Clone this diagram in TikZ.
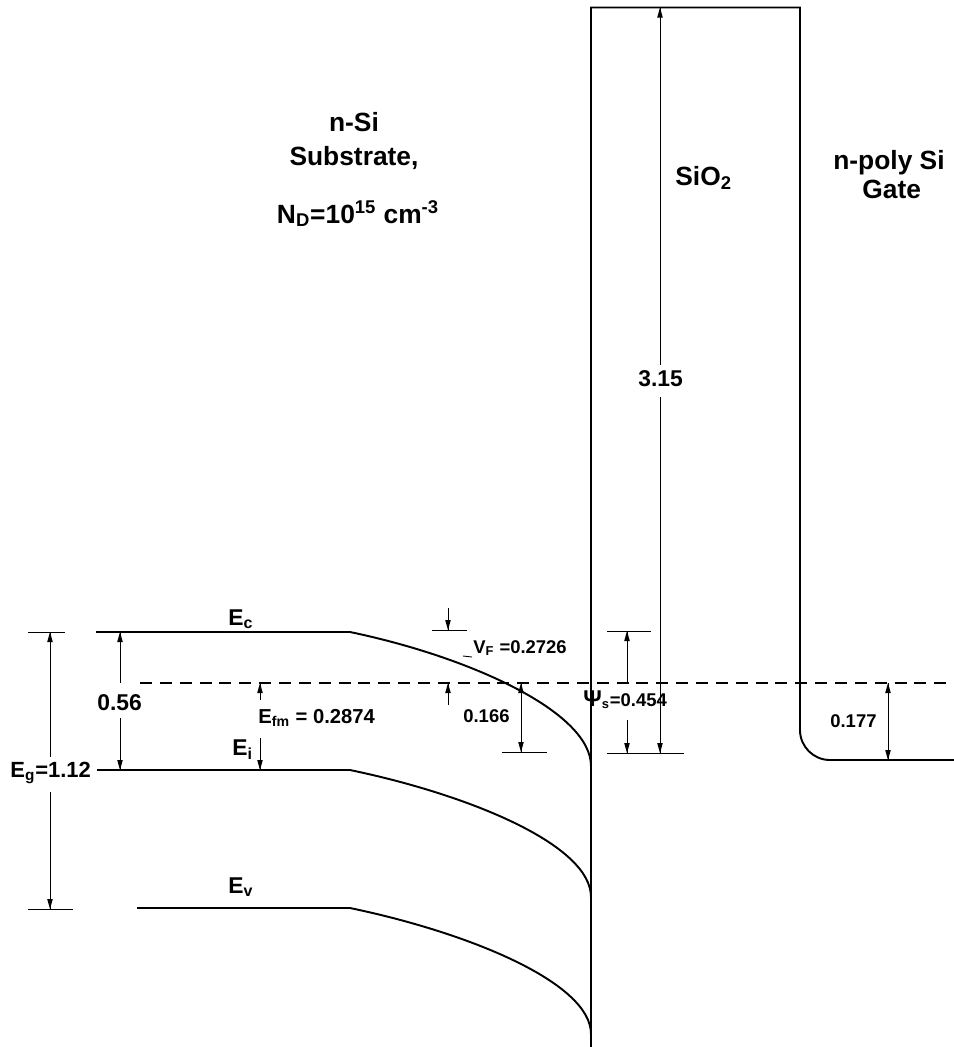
\documentclass[tikz,border=0pt]{standalone}
\usepackage{fontspec}
\setmainfont{Liberation Sans}

\begin{document}
\begin{tikzpicture}[scale=0.2]
        \tikzstyle{every node}+=[inner sep=0pt]
        \tikzstyle{band}=[black, line width=1.1pt]
        \tikzstyle{dim}=[black, line width=0.5pt]
        \tikzstyle{big}=[font=\fontsize{15}{18}\selectfont\bfseries]
        \tikzstyle{mid}=[font=\fontsize{13}{15}\selectfont\bfseries]
        \tikzstyle{small}=[font=\fontsize{10.5}{12}\selectfont\bfseries]
        \useasboundingbox (0,0) rectangle (95.4,-104.7);
        % bands
        \draw [band] (9.6,-63.2) -- (35,-63.2) .. controls (47,-65.7) and (59.1,-71.2) .. (59.1,-76.6);
        \draw [band] (9.7,-77.0) -- (35,-77.0) .. controls (47,-79.5) and (59.1,-84.5) .. (59.1,-89.7);
        \draw [band] (13.7,-90.8) -- (35,-90.8) .. controls (47,-93.3) and (59.1,-98.3) .. (59.1,-103.4);
        \draw [black, line width=0.9pt, dash pattern=on 6.8pt off 4.5pt] (14,-68.3) -- (95.4,-68.3);
        % oxide and gate
        \draw [band] (59.1,-104.7) -- (59.1,-0.75) -- (80,-0.75) -- (80,-73) arc (180:270:3) -- (95.4,-76);
        % texts
        \draw (35.4,-13.1) node (nsi) [big, anchor=base] {n-Si};
        \draw (35.4,-16.5) node (sub) [big, anchor=base] {Substrate,};
        \draw (35.8,-22.3) node (nd) [big, anchor=base] {N\textsubscript{D}=10\textsuperscript{15} cm\textsuperscript{-3}};
        \draw (67.5,-18.5) node (sio) [big, anchor=base west] {SiO\textsubscript{2}};
        \draw (83.3,-16.9) node (poly) [big, anchor=base west] {n-poly Si};
        \draw (86.2,-19.8) node (gate) [big, anchor=base west] {Gate};
        \draw (22.8,-62.5) node (ec) [mid, anchor=base west] {E\textsubscript{c}};
        \draw (23.2,-75.5) node (ei) [mid, anchor=base west] {E\textsubscript{i}};
        \draw (22.8,-89.3) node (ev) [mid, anchor=base west] {E\textsubscript{v}};
        % E_g = 1.12
        \draw [dim] (2.8,-63.2) -- (6.5,-63.2);
        \draw [dim] (2.8,-90.9) -- (7.3,-90.9);
        \draw [dim] (5,-63.2) -- (5,-75.7);
        \draw [dim] (5,-79.2) -- (5,-90.9);
        \fill [black] (5,-63.2) -- (4.72,-64.2) -- (5.28,-64.2);
        \fill [black] (5,-90.9) -- (4.72,-89.9) -- (5.28,-89.9);
        \draw (1,-77.7) node (eg) [anchor=base west, font=\fontsize{12.5}{15}\selectfont\bfseries] {E\textsubscript{g}=1.12};
        % 0.56
        \draw [dim] (12,-63.2) -- (12,-68.3);
        \draw [dim] (12,-71.8) -- (12,-77.0);
        \fill [black] (12,-63.2) -- (11.72,-64.2) -- (12.28,-64.2);
        \fill [black] (12,-77.0) -- (11.72,-76.0) -- (12.28,-76.0);
        \draw (9.7,-71) node (half) [mid, anchor=base west] {0.56};
        % E_fm
        \draw [dim] (26,-68.3) -- (26,-70);
        \draw [dim] (26,-73.8) -- (26,-77.0);
        \fill [black] (26,-68.3) -- (25.72,-69.3) -- (26.28,-69.3);
        \fill [black] (26,-77.0) -- (25.72,-76.0) -- (26.28,-76.0);
        \draw (25.8,-72.3) node (efm) [anchor=base west, font=\fontsize{11.5}{13}\selectfont\bfseries] {E\textsubscript{fm} = 0.2874};
        % V_F
        \draw [dim] (43.2,-63.0) -- (46.7,-63.0);
        \draw [dim] (44.8,-60.8) -- (44.8,-63.0);
        \draw [dim] (44.8,-70.5) -- (44.8,-68.3);
        \fill [black] (44.8,-63.0) -- (44.52,-62.0) -- (45.08,-62.0);
        \fill [black] (44.8,-68.3) -- (44.52,-69.3) -- (45.08,-69.3);
        \draw [dim] (46.3,-65.6) -- (47.2,-65.7);
        \draw (47.3,-65.3) node (vf) [small, anchor=base west] {V\textsubscript{F} =0.2726};
        % 0.166
        \draw [dim] (50.2,-75.2) -- (54.7,-75.2);
        \draw [dim] (52.1,-68.3) -- (52.1,-75.2);
        \fill [black] (52.1,-68.3) -- (51.82,-69.3) -- (52.38,-69.3);
        \fill [black] (52.1,-75.2) -- (51.82,-74.2) -- (52.38,-74.2);
        \draw (46.3,-72.2) node (bend) [small, anchor=base west] {0.166};
        % psi_s
        \draw [dim] (60.7,-63.1) -- (65.1,-63.1);
        \draw [dim] (60.7,-75.3) -- (68.4,-75.3);
        \draw [dim] (62.7,-63.1) -- (62.7,-68.3);
        \draw [dim] (62.7,-72) -- (62.7,-75.3);
        \fill [black] (62.7,-63.1) -- (62.42,-64.1) -- (62.98,-64.1);
        \fill [black] (62.7,-75.3) -- (62.42,-74.3) -- (62.98,-74.3);
        \draw (58.3,-70.6) node (psi) [small, anchor=base west] {{\fontsize{13}{15}\selectfont Ψ}\textsubscript{s}=0.454};
        % 3.15
        \draw [dim] (66,-0.75) -- (66,-36.5);
        \draw [dim] (66,-39.7) -- (66,-75.3);
        \fill [black] (66,-0.75) -- (65.72,-1.75) -- (66.28,-1.75);
        \fill [black] (66,-75.3) -- (65.72,-74.3) -- (66.28,-74.3);
        \draw (63.8,-38.6) node (ox) [mid, anchor=base west] {3.15};
        % 0.177
        \draw [dim] (88.8,-68.3) -- (88.8,-76);
        \fill [black] (88.8,-68.3) -- (88.52,-69.3) -- (89.08,-69.3);
        \fill [black] (88.8,-76) -- (88.52,-75) -- (89.08,-75);
        \draw (83,-72.7) node (gt) [small, anchor=base west] {0.177};
    \end{tikzpicture}
\end{document}
